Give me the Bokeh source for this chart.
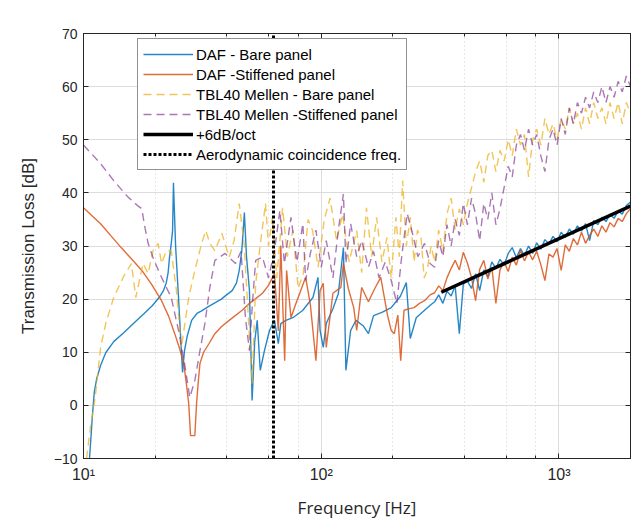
from bokeh.plotting import figure
from bokeh.models import Range1d, FixedTicker, LogTicker, LogAxis, LinearAxis, ColumnDataSource
from bokeh.embed import file_html
from bokeh.resources import INLINE

# ---------------- data ----------------
x_limits = [10, 2000]
y_limits = [-10, 70]
y_ticks = [-10, 0, 10, 20, 30, 40, 50, 60, 70]
x_tick_labels = {10: "10\u00b9", 100: "10\u00b2", 1000: "10\u00b3"}

coincidence_freq = 63.0

oct_f = [320, 2000]
oct_tl = [21.3, 37.5]

f_hi = [300, 312, 325, 338, 352, 366, 381, 396, 412, 429,
        446, 464, 483, 502, 522, 543, 565, 588, 612, 636,
        662, 689, 716, 745, 775, 806, 839, 873, 908, 944,
        982, 1022, 1063, 1106, 1150, 1196, 1244, 1294, 1346, 1401,
        1457, 1516, 1577, 1640, 1706, 1775, 1846, 1921, 2000]

# DAF - Bare panel
daf_bare_f_lo = [10.6, 10.9, 11.1, 11.36, 11.8, 12.4, 13.4, 14.8, 16.3, 18.0,
                 19.5, 20.8, 21.7, 22.3, 22.7, 23.0, 23.4, 23.7, 23.9,
                 24.4, 25.1, 26.1, 26.6, 27.3, 28.5, 30.0, 31.4, 33.5, 35.7,
                 38.0, 40.0, 42.2, 44.0, 45.2, 46.3, 47.0, 47.5, 48.5, 49.9,
                 51.2, 52.5, 53.8, 55.4, 57.7, 60.6, 63.6, 66.0, 67.6, 71.0,
                 76.0, 83.7, 92.3, 96.9, 98.9, 102, 105, 112, 118, 124, 127, 133,
                 140, 150, 158, 166, 180, 197, 215, 228, 237, 251, 272, 290]
daf_bare_tl_lo = [-10, -2, 2.5, 5.0, 7.5, 9.9, 12.0, 13.7, 15.5, 17.3,
                  18.8, 20.3, 21.6, 23.1, 25.0, 27.8, 30.5, 32.9, 41.9,
                  30.0, 20.3, 6.2, 10.3, 13.0, 16.0, 17.3, 17.8, 18.6, 19.3,
                  20.0, 20.8, 21.6, 23.0, 25.4, 29.0, 33.0, 36.3, 28.0, 21.6,
                  0.9, 12.0, 16.0, 6.6, 10.3, 14.1, 16.0, 11.6, 15.4, 16.0,
                  16.5, 17.9, 20.3, 24.1, 14.1, 10.9, 15.4, 18.2, 21.0, 29.7, 6.6, 14.1,
                  16.0, 15.0, 13.5, 16.9, 17.5, 18.4, 20.5, 23.1, 12.6, 16.5, 17.9, 19.0]
daf_bare_tl_hi = [19.5, 20.8, 19.2, 21.5, 20.6, 22.5, 13.5, 22.8, 23.4, 22.0,
                  24.8, 21.6, 25.5, 24.2, 27.0, 25.8, 27.5, 26.4, 28.6, 29.7,
                  27.8, 29.5, 28.2, 30.0, 28.6, 30.6, 29.4, 31.2, 30.4, 31.8,
                  30.8, 32.6, 31.6, 33.2, 32.2, 33.8, 32.8, 34.2, 31.0, 34.8,
                  34.0, 35.4, 34.6, 36.0, 35.2, 36.6, 36.0, 37.6, 38.3]

# DAF - Stiffened panel
daf_stiff_f_lo = [10, 10.8, 11.8, 13.0, 14.4, 15.9, 17.6, 19.4, 21.3, 22.8,
                  24.2, 25.4, 26.4, 27.1, 27.7, 28.2, 29.4, 29.9, 30.4, 30.9,
                  32.0, 33.7, 35.7, 38.0, 41.0, 46.5, 49.9, 53.0, 56.6, 60.0,
                  63.6,
                  66.0, 67.6, 69.0, 70.2, 71.5, 74.6, 78.0, 81.2, 86.0, 90.0,
                  95.0, 98.9, 102, 105, 112, 121, 124, 130, 137, 141,
                  148, 158, 168, 178, 190, 197, 203, 210, 216, 223,
                  235, 246, 259, 272, 287]
daf_stiff_tl_lo = [37.2, 35.8, 34.2, 32.0, 29.7, 27.6, 25.4, 22.7, 19.7, 16.8,
                   13.5, 10.6, 7.9, 4.0, 0.4, -5.7, -5.7, 0.4, 4.5, 7.9,
                   10.0, 11.6, 13.5, 14.8, 16.0, 17.9, 19.2, 20.1, 21.1, 22.6,
                   24.8,
                   14.0, 30.1, 18.0, 8.4, 25.4, 16.5, 19.0, 21.1, 24.1, 19.0,
                   8.4, 21.6, 23.0, 10.9, 21.1, 22.2, 26.7, 22.0, 18.4, 14.1,
                   22.2, 19.5, 22.0, 24.1, 17.0, 14.1, 13.5, 17.0, 8.4, 17.9,
                   18.2, 18.4, 19.2, 19.7, 20.8]
daf_stiff_tl_hi = [21.2, 22.5, 21.6, 24.0, 25.8, 27.3, 25.5, 28.8, 26.8, 24.0,
                   19.7, 25.6, 27.3, 23.8, 26.0, 19.2, 25.5, 27.0, 25.2, 27.9,
                   26.4, 29.2, 27.2, 28.9, 27.4, 29.0, 26.5, 23.5, 28.5, 27.9,
                   29.5, 25.4, 30.2, 29.0, 31.4, 30.2, 32.6, 30.5, 32.0, 33.2,
                   31.8, 33.8, 32.6, 34.4, 33.6, 35.2, 34.6, 36.1, 37.0]

# TBL40 Mellen - Bare panel
tbl_bare_f_lo = [10.3, 10.7, 11.2, 11.8, 12.4, 13.4, 14.8, 15.9, 16.6, 17.8,
                 18.7, 19.6, 20.6, 21.3, 22.3, 23.4, 24.6, 25.8, 27.7, 29.4,
                 31.4, 32.7, 34.0, 35.7, 38.2, 41.0, 43.0, 45.2, 47.5, 49.9,
                 51.2, 53.0, 55.0, 58.3, 60.0, 62.4, 65.0, 68.8, 72.0, 76.0,
                 80.0, 84.0, 88.0, 92.0, 97.0, 103, 109, 116, 123, 131,
                 141, 148, 155, 163, 171, 180, 189, 197, 206, 213,
                 220, 228, 237, 246, 254, 263, 271, 279, 290]
tbl_bare_tl_lo = [-10, -4, 1.5, 10.9, 15.4, 20.3, 24.4, 26.7, 20.3, 26.7,
                  24.8, 29.1, 30.5, 26.7, 29.1, 29.1, 21.6, 10.9, 20.3, 25.4,
                  30.5, 32.9, 30.5, 29.1, 32.4, 27.9, 31.0, 38.0, 30.0, 12.8,
                  4.1, 22.9, 29.1, 38.0, 30.0, 35.4, 24.0, 37.2, 28.0, 32.9,
                  22.0, 24.8, 35.0, 32.9, 26.0, 35.0, 39.0, 31.0, 36.0, 27.0,
                  32.9, 25.0, 37.2, 28.0, 35.4, 27.0, 31.6, 24.0, 35.4, 28.0,
                  42.3, 30.0, 35.4, 27.0, 33.0, 31.6, 24.0, 25.4, 30.0]
tbl_bare_tl_hi = [27, 33, 29, 36, 39, 33, 37, 34, 38, 41,
                  44, 46, 42, 47, 48, 44, 48, 46, 50, 47,
                  52, 49, 51, 43, 50, 52, 49, 54, 51, 53,
                  50, 54, 52, 56, 53, 55, 52, 56, 53, 57,
                  54, 56, 53, 57, 54, 57, 53, 57, 55]

# TBL40 Mellen - Stiffened panel
tbl_stiff_f_lo = [10, 11.8, 13.4, 15.4, 17.0, 17.6, 18.0, 18.7, 19.8, 21.3,
                  23.4, 25.1, 26.6, 28.0, 29.4, 30.9, 32.4, 34.0, 35.7, 39.4,
                  43.6, 46.0, 48.0, 49.9, 51.5, 53.0, 56.6, 60.0, 63.6, 67.0,
                  70.0, 74.6, 79.0, 83.7, 86.0, 90.0, 95.0, 100, 105, 112,
                  118, 124, 127, 133, 141, 148, 158, 166, 175, 186,
                  197, 208, 218, 230, 242, 255, 272, 287]
tbl_stiff_tl_lo = [49.0, 45.5, 42.3, 39.2, 37.5, 37.0, 34.2, 30.5, 27.3, 24.1,
                   20.3, 14.1, 7.9, 1.5, 4.7, 10.3, 15.4, 22.2, 27.3, 28.6,
                   26.7, 29.0, 16.5, 10.3, 20.0, 27.3, 27.9, 24.0, 29.1, 36.7,
                   26.7, 35.4, 27.0, 34.2, 23.5, 28.6, 33.0, 26.0, 31.0, 24.0,
                   33.0, 39.8, 26.7, 34.2, 28.0, 31.0, 26.0, 29.0, 24.0, 27.0,
                   23.5, 19.2, 28.0, 36.1, 32.4, 28.0, 30.5, 26.7]
tbl_stiff_tl_hi = [26, 31, 28, 34, 30, 35, 32, 38, 34, 39,
                   36, 31, 38, 35, 40, 34, 37, 41, 45, 43,
                   49, 51, 48, 52, 49, 51, 47, 44, 50, 52,
                   49, 54, 51, 56, 53, 57, 55, 58, 56, 59,
                   57, 60, 57, 60, 58, 61, 59, 62, 60]

# ---------------- styles ----------------
C_BLUE = "#0072BD"
C_ORANGE = "#D95319"
C_YELLOW = "#EDB120"
C_PURPLE = "#7E2F8E"
AX = "#262626"
TICK_FONT = "Liberation Sans"

p = figure(width=635, height=522, x_axis_type="log",
           x_range=Range1d(x_limits[0], x_limits[1]),
           y_range=Range1d(y_limits[0], y_limits[1]),
           output_backend="svg", toolbar_location=None,
           min_border_left=83, min_border_right=5,
           min_border_top=33, min_border_bottom=64)
p.background_fill_color = "white"
p.border_fill_color = "white"
p.outline_line_color = AX
p.outline_line_width = 1

series = [
    ("DAF - Bare panel", daf_bare_f_lo + f_hi, daf_bare_tl_lo + daf_bare_tl_hi, C_BLUE, "solid", 0.85),
    ("DAF -Stiffened panel", daf_stiff_f_lo + f_hi, daf_stiff_tl_lo + daf_stiff_tl_hi, C_ORANGE, "solid", 0.85),
    ("TBL40 Mellen - Bare panel", tbl_bare_f_lo + f_hi, tbl_bare_tl_lo + tbl_bare_tl_hi, C_YELLOW, "8 5", 0.75),
    ("TBL40 Mellen -Stiffened panel", tbl_stiff_f_lo + f_hi, tbl_stiff_tl_lo + tbl_stiff_tl_hi, C_PURPLE, "8 5", 0.65),
]
for label, fx, ty, col, dash, alpha in series:
    src = ColumnDataSource(dict(f=fx, tl=ty))
    p.line("f", "tl", source=src, line_color=col, line_width=1.4, line_alpha=alpha,
           line_dash=dash, legend_label=label)

p.line(oct_f, oct_tl, line_color="black", line_width=3.5, legend_label="+6dB/oct")
p.segment(x0=[coincidence_freq], y0=[y_limits[0]], x1=[coincidence_freq], y1=[y_limits[1]],
          line_color="black", line_width=3, line_dash="3 2",
          legend_label="Aerodynamic coincidence freq.")

# ---------------- axes ----------------
p.xaxis.ticker = LogTicker()
p.xaxis.major_label_overrides = x_tick_labels
p.yaxis.ticker = FixedTicker(ticks=y_ticks)
for ax in (p.xaxis[0], p.yaxis[0]):
    ax.axis_line_color = AX
    ax.major_tick_line_color = AX
    ax.minor_tick_line_color = AX
    ax.major_tick_in = 5
    ax.major_tick_out = 0
    ax.minor_tick_in = 3
    ax.minor_tick_out = 0
    ax.major_label_text_font = TICK_FONT
    ax.major_label_text_font_size = "14px"
    ax.major_label_text_color = AX
    ax.axis_label_text_font_style = "normal"
    ax.axis_label_text_color = AX
p.xaxis.major_label_text_font_size = "16px"
p.yaxis.minor_tick_line_color = None
p.xaxis.axis_label = "Frequency [Hz]"
p.xaxis.axis_label_text_font = "Open Sans"
p.xaxis.axis_label_text_font_size = "17px"
p.xaxis.major_label_standoff = 7
p.xaxis.axis_label_standoff = 10
p.yaxis.axis_label = "Transmission Loss [dB]"
p.yaxis.axis_label_text_font = TICK_FONT
p.yaxis.axis_label_text_font_size = "17px"
p.yaxis.major_label_standoff = 6
p.yaxis.axis_label_standoff = 13

top = LogAxis(ticker=LogTicker(), major_label_text_font_size="1px", major_label_text_alpha=0,
              major_label_standoff=0,
              major_tick_in=5, major_tick_out=0, minor_tick_in=3, minor_tick_out=0,
              axis_line_color=AX, major_tick_line_color=AX, minor_tick_line_color=AX)
right = LinearAxis(ticker=FixedTicker(ticks=y_ticks), major_label_text_font_size="1px",
                   major_label_text_alpha=0,
                   major_label_standoff=0, major_tick_in=5, major_tick_out=0,
                   minor_tick_line_color=None, axis_line_color=AX, major_tick_line_color=AX)
p.add_layout(top, "above")
p.add_layout(right, "right")

# ---------------- grid ----------------
p.xgrid.ticker = LogTicker()
p.ygrid.ticker = FixedTicker(ticks=y_ticks)
p.grid.grid_line_color = "#dcdcdc"
p.grid.grid_line_width = 1
p.xgrid.minor_grid_line_color = "#d0d0d0"
p.xgrid.minor_grid_line_dash = "1 3"

# ---------------- legend ----------------
lg = p.legend[0]
lg.location = (54, 288)
lg.border_line_color = AX
lg.border_line_width = 1
lg.background_fill_color = "white"
lg.background_fill_alpha = 1
lg.label_text_font = TICK_FONT
lg.label_text_font_size = "15px"
lg.label_text_color = "black"
lg.glyph_width = 50
lg.glyph_height = 20
lg.label_height = 20
lg.label_standoff = 3
lg.spacing = 0
lg.padding = 5
lg.margin = 0

open("out.html", "w").write(file_html(p, INLINE))
